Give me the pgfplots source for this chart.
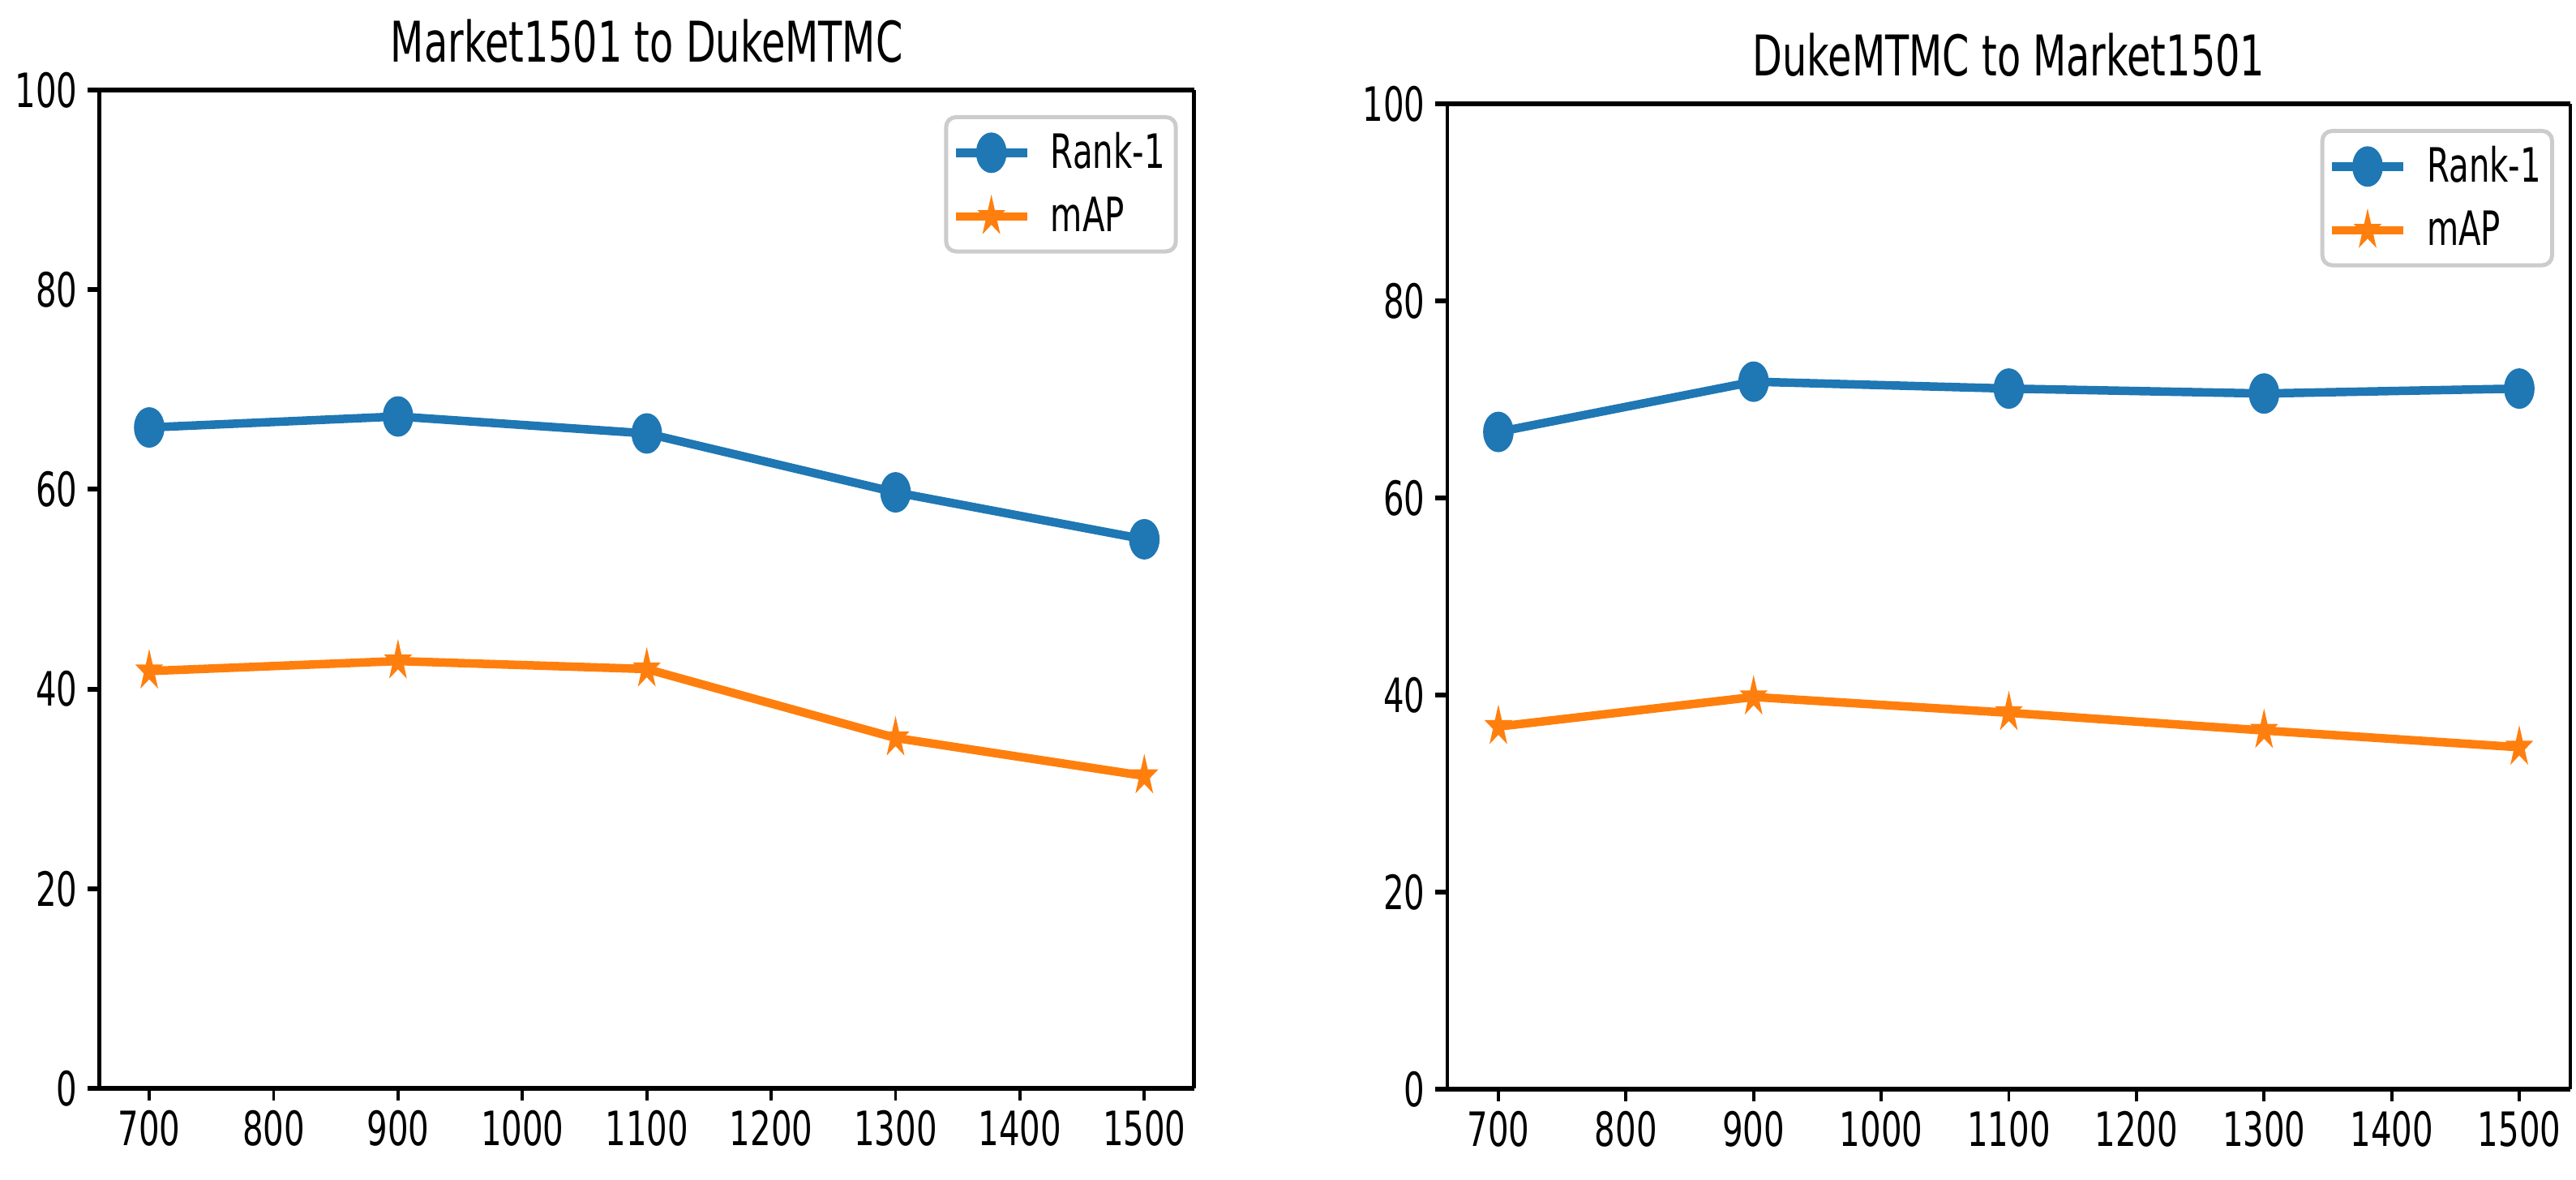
\documentclass[border=0pt]{standalone}
\usepackage{fontspec}
\setmainfont{DejaVu Sans}[FakeStretch=0.69]
\usepackage{pgfplots}
\pgfplotsset{compat=1.18}

\definecolor{c0}{HTML}{1F77B4}
\definecolor{c1}{HTML}{FF7F0E}
\definecolor{legframe}{HTML}{CCCCCC}

\newcommand\ticksize{\fontsize{16.6}{20}\selectfont}
\newcommand\titlesize{\fontsize{19.7}{24}\selectfont}

% filled five-pointed star, like matplotlib's '*'
\pgfdeclareplotmark{mstar}{%
  \pgfpathmoveto{\pgfpointpolar{90}{\pgfplotmarksize}}%
  \pgfpathlineto{\pgfpointpolar{126}{0.382*\pgfplotmarksize}}%
  \pgfpathlineto{\pgfpointpolar{162}{\pgfplotmarksize}}%
  \pgfpathlineto{\pgfpointpolar{198}{0.382*\pgfplotmarksize}}%
  \pgfpathlineto{\pgfpointpolar{234}{\pgfplotmarksize}}%
  \pgfpathlineto{\pgfpointpolar{270}{0.382*\pgfplotmarksize}}%
  \pgfpathlineto{\pgfpointpolar{306}{\pgfplotmarksize}}%
  \pgfpathlineto{\pgfpointpolar{342}{0.382*\pgfplotmarksize}}%
  \pgfpathlineto{\pgfpointpolar{18}{\pgfplotmarksize}}%
  \pgfpathlineto{\pgfpointpolar{54}{0.382*\pgfplotmarksize}}%
  \pgfpathclose
  \pgfusepathqfillstroke
}

\pgfplotsset{
  every axis title shift=0pt,
  reid/.style={
    scale only axis,
    anchor=south west,
    xmin=660, xmax=1540, ymin=0, ymax=100,
    xtick={700,800,...,1500},
    ytick={0,20,...,100},
    tick align=outside,
    tick pos=left,
    major tick length=0.15cm,
    separate axis lines,
    x axis line style={line width=1.7pt},
    y axis line style={line width=1.3pt},
    xtick style={line width=1.1pt, black},
    ytick style={line width=1.7pt, black},
    ticklabel style={font=\ticksize},
    /pgf/number format/assume math mode=true,
    /pgf/number format/1000 sep={},
    title style={font=\titlesize, at={(0.5,1)}, anchor=base, yshift=0.34cm},
    legend cell align=left,
    legend style={at={(1,1)}, anchor=north east, xshift=-0.2cm, yshift=-0.31cm,
      draw=legframe, line width=0.05cm, rounded corners=0.12cm, font=\ticksize,
      inner xsep=0.065cm, inner ysep=0.12cm, row sep=0.16cm,
      /tikz/every odd column/.append style={column sep=0.17cm}},
    legend image code/.code={%
      \draw[mark repeat=2, mark phase=2] plot coordinates {(0cm,0cm) (0.44cm,0cm) (0.88cm,0cm)};},
  },
  rank/.style={color=c0, line width=0.105cm, mark=*, mark size=5.6pt,
    mark options={solid, fill=c0, draw=none, xscale=0.69}},
  map/.style={color=c1, line width=0.105cm, mark=mstar, mark size=6.6pt,
    mark options={solid, fill=c1, draw=c1, line width=0.5pt, xscale=0.69}},
}

\begin{document}
\begin{tikzpicture}
\path[use as bounding box] (0,0) rectangle (31.77,14.54);

% Market1501 -> DukeMTMC
\begin{axis}[reid, at={(1.227cm,1.12cm)}, width=13.50cm, height=12.31cm,
  title={Market1501 to DukeMTMC}]
\addplot[rank] coordinates {(700,66.2) (900,67.3) (1100,65.6) (1300,59.7) (1500,55.0)};
\addlegendentry{Rank-1}
\addplot[map] coordinates {(700,41.8) (900,42.8) (1100,42.0) (1300,35.1) (1500,31.3)};
\addlegendentry{mAP}
\end{axis}

% DukeMTMC -> Market1501
\begin{axis}[reid, at={(17.85cm,1.11cm)}, width=13.85cm, height=12.15cm,
  title={DukeMTMC to Market1501}]
\addplot[rank] coordinates {(700,66.7) (900,71.8) (1100,71.1) (1300,70.6) (1500,71.1)};
\addlegendentry{Rank-1}
\addplot[map] coordinates {(700,36.8) (900,39.8) (1100,38.2) (1300,36.4) (1500,34.7)};
\addlegendentry{mAP}
\end{axis}
\end{tikzpicture}
\end{document}
